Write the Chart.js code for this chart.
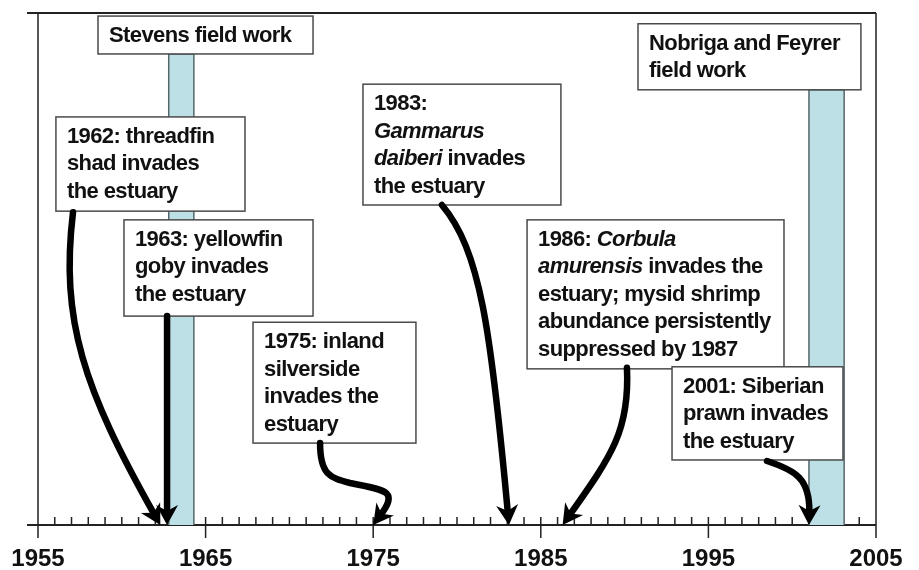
<!DOCTYPE html>
<html>
<head>
<meta charset="utf-8">
<title>Invasions timeline</title>
<script src="https://cdn.jsdelivr.net/npm/chart.js@4.4.0/dist/chart.umd.min.js"></script>
<style>
  html, body { margin: 0; padding: 0; background: #fff; }
  canvas { display: block; }
</style>
</head>
<body>
<canvas id="timeline" width="919" height="570"></canvas>
<script>
// x axis: years, labelled every decade from 1955
const yearMin = 1955;
const yearMax = 2005;
const tickLabels = ["1955", "1965", "1975", "1985", "1995", "2005"];

// field work periods (shaded bars)
const fieldWork = ["Stevens field work", "Nobriga and Feyrer field work"];
const fieldStart = [1962.8, 2001.0];
const fieldEnd = [1964.3, 2003.1];

// invasion events and the year where each arrow meets the axis
const eventYears = [1962, 1963, 1975, 1983, 1986, 2001];
const arrowTips = [1962.3, 1962.7, 1975.0, 1983.1, 1986.3, 2001.0];

// ---- layout only (hidden y scale runs 0 at the axis to 100 at the top) ----
const FONT = "'Liberation Sans', Arial, sans-serif";
const barTop = [92.0, 85.0];

// text boxes: left/right in years, top/bottom on the hidden y scale
// *text* = italic
const notes = [
  { from: 1958.58, to: 1971.41, top: 99.4, bottom: 92.0, lines: ["Stevens field work"] },
  { from: 1990.8, to: 2004.1, top: 97.9, bottom: 85.0, lines: ["Nobriga and Feyrer", "field work"] },
  { from: 1956.07, to: 1967.35, top: 79.7, bottom: 61.3, lines: ["1962: threadfin", "shad invades", "the estuary"] },
  { from: 1960.13, to: 1971.41, top: 59.6, bottom: 40.8, lines: ["1963: yellowfin", "goby invades", "the estuary"] },
  { from: 1967.83, to: 1977.55, top: 39.6, bottom: 16.0, lines: ["1975: inland", "silverside", "invades the", "estuary"] },
  { from: 1974.39, to: 1986.2, top: 86.1, bottom: 62.5, lines: ["1983:", "*Gammarus*", "*daiberi* invades", "the estuary"] },
  { from: 1984.18, to: 1999.51, top: 59.6, bottom: 30.5, lines: ["1986: *Corbula*", "*amurensis* invades the", "estuary; mysid shrimp", "abundance persistently", "suppressed by 1987"] },
  { from: 1992.83, to: 2003.03, top: 30.9, bottom: 12.7, lines: ["2001: Siberian", "prawn invades", "the estuary"] }
];

// arrow curves (cubic bezier points, year / y), last point is the tip on the axis
const arrowPaths = [
  [[1957.09, 61.1], [1956.31, 40.0], [1958.10, 24.4]],
  [[1962.7, 40.8], [1962.7, 27.0], [1962.7, 14.0]],
  [[1971.83, 16.0], [1971.83, 9.8], [1972.42, 9.2], [1973.62, 8.2], [1975.70, 6.8], [1976.12, 4.9]],
  [[1979.10, 62.5], [1981.37, 53.7], [1982.09, 36.1]],
  [[1990.14, 30.7], [1990.32, 18.6], [1988.83, 11.7]],
  [[1998.50, 12.5], [2000.17, 10.7], [2001.06, 6.8]]
];

function drawArrow(ctx, pts) {
  const n = pts.length;
  const tip = pts[n - 1], prev = pts[n - 2];
  let dx = tip[0] - prev[0], dy = tip[1] - prev[1];
  const len = Math.hypot(dx, dy) || 1;
  dx /= len; dy /= len;
  const L = 20, W = 11, back = L * 0.6;

  ctx.beginPath();
  ctx.moveTo(pts[0][0], pts[0][1]);
  for (let i = 1; i < n; i += 3) {
    const last = i + 2 === n - 1;
    const c2 = last ? [pts[i + 1][0] - dx * back, pts[i + 1][1] - dy * back] : pts[i + 1];
    const e = last ? [tip[0] - dx * back, tip[1] - dy * back] : pts[i + 2];
    ctx.bezierCurveTo(pts[i][0], pts[i][1], c2[0], c2[1], e[0], e[1]);
  }
  ctx.lineWidth = 6.5;
  ctx.lineCap = "round";
  ctx.lineJoin = "round";
  ctx.stroke();

  const bx = tip[0] - dx * L, by = tip[1] - dy * L;
  ctx.beginPath();
  ctx.moveTo(tip[0], tip[1]);
  ctx.lineTo(bx - dy * W, by + dx * W);
  ctx.lineTo(tip[0] - dx * L * 0.7, tip[1] - dy * L * 0.7);
  ctx.lineTo(bx + dy * W, by - dx * W);
  ctx.closePath();
  ctx.fill();
}

// axis frame and year ticks, under the bars
const framePlugin = {
  id: "frame",
  beforeDatasetsDraw(chart) {
    const { ctx, chartArea: a, scales: { x } } = chart;
    ctx.save();
    ctx.strokeStyle = "#222";
    ctx.lineWidth = 2;
    ctx.beginPath();
    ctx.moveTo(a.left - 11, a.top);
    ctx.lineTo(a.right, a.top);
    ctx.moveTo(a.left - 11, a.bottom);
    ctx.lineTo(a.right, a.bottom);
    ctx.stroke();

    ctx.lineWidth = 1.5;
    ctx.beginPath();
    for (let yr = yearMin; yr <= yearMax; yr++) {
      const px = x.getPixelForValue(yr);
      const major = (yr - yearMin) % 10 === 0;
      const top = (yr === yearMin || yr === yearMax) ? a.top : a.bottom - 8;
      ctx.moveTo(px, top);
      ctx.lineTo(px, major ? a.bottom + 13 : a.bottom);
    }
    ctx.stroke();
    ctx.restore();
  }
};

// text boxes and arrows, over the bars
const notesPlugin = {
  id: "notes",
  afterDatasetsDraw(chart) {
    const { ctx, scales: { x, y } } = chart;
    ctx.save();
    notes.forEach(note => {
      const l = x.getPixelForValue(note.from), r = x.getPixelForValue(note.to);
      const t = y.getPixelForValue(note.top), b = y.getPixelForValue(note.bottom);
      ctx.fillStyle = "#fff";
      ctx.fillRect(l, t, r - l, b - t);
      ctx.strokeStyle = "#4a4a4a";
      ctx.lineWidth = 1.5;
      ctx.strokeRect(l, t, r - l, b - t);

      ctx.fillStyle = "#111";
      ctx.textBaseline = "middle";
      ctx.letterSpacing = "-0.6px";
      note.lines.forEach((line, i) => {
        let tx = l + 11;
        const ty = t + 20 + i * 27.5;
        line.split("*").forEach((seg, k) => {
          if (!seg) return;
          ctx.font = (k % 2 ? "italic " : "") + "bold 22px " + FONT;
          ctx.fillText(seg, tx, ty);
          tx += ctx.measureText(seg).width;
        });
      });
    });

    ctx.fillStyle = "#000";
    ctx.strokeStyle = "#000";
    arrowPaths.forEach((path, i) => {
      const pts = path.concat([[arrowTips[i], 0]])
        .map(p => [x.getPixelForValue(p[0]), y.getPixelForValue(p[1])]);
      drawArrow(ctx, pts);
    });
    ctx.restore();
  }
};

new Chart(document.getElementById("timeline"), {
  type: "line",
  data: {
    datasets: fieldWork.map((name, i) => ({
      label: name,
      data: [
        { x: fieldStart[i], y: 0 },
        { x: fieldStart[i], y: barTop[i] },
        { x: fieldEnd[i], y: barTop[i] },
        { x: fieldEnd[i], y: 0 }
      ],
      borderColor: "#55676b",
      borderWidth: 1.5,
      backgroundColor: "#bde0e6",
      fill: "origin",
      pointRadius: 0,
      tension: 0
    }))
  },
  options: {
    responsive: false,
    animation: false,
    layout: { padding: { left: 38, right: 43, top: 13, bottom: 0 } },
    plugins: {
      legend: { display: false },
      tooltip: { enabled: false }
    },
    scales: {
      x: {
        type: "linear",
        min: yearMin,
        max: yearMax,
        grid: { display: false, drawTicks: false },
        border: { display: false },
        afterBuildTicks: s => { s.ticks = tickLabels.map(v => ({ value: Number(v) })); },
        afterFit: s => { s.height = 45; s.paddingLeft = 0; s.paddingRight = 0; },
        ticks: {
          autoSkip: false,
          maxRotation: 0,
          padding: 22,
          color: "#111",
          font: { family: FONT, size: 24, weight: "bold", lineHeight: 1 },
          callback: v => String(v)
        }
      },
      y: { type: "linear", min: 0, max: 100, display: false }
    }
  },
  plugins: [framePlugin, notesPlugin]
});
</script>
</body>
</html>
